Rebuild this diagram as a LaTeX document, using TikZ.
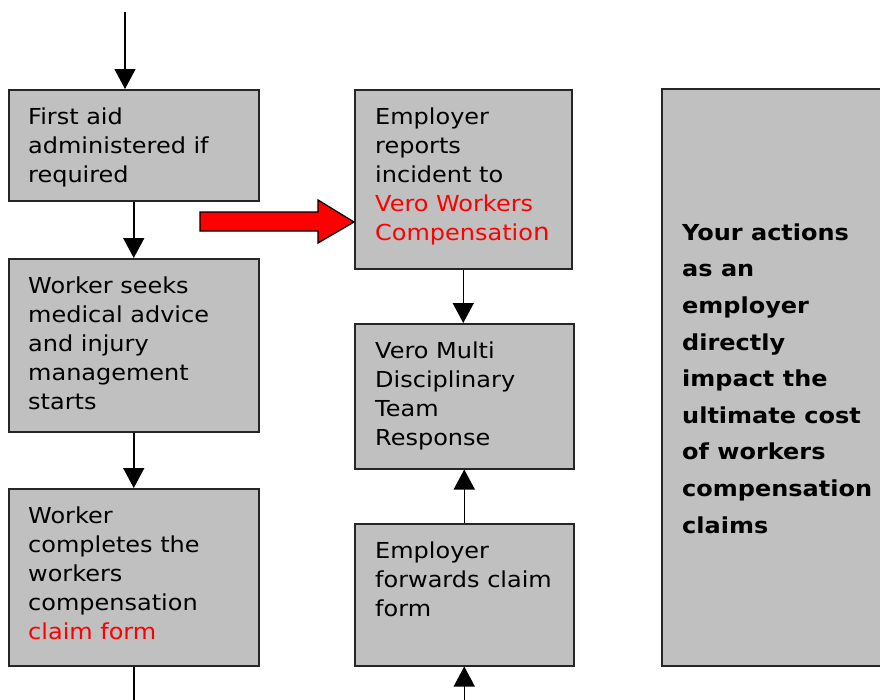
\documentclass[tikz,border=0pt]{standalone}
\usepackage{fontspec}
\setmainfont[FakeStretch=1.09]{DejaVu Sans}
\usetikzlibrary{arrows.meta}
\definecolor{boxgray}{HTML}{C0C0C0}
\definecolor{vred}{HTML}{FF0000}
\newcommand\firststrut{\rule{0pt}{17pt}}
\begin{document}
\begin{tikzpicture}[x=1pt,y=-1pt,
  box/.style={draw=black!85, line width=1.5pt, fill=boxgray, rectangle, inner sep=0pt, anchor=north west},
  txt/.style={anchor=north west, inner sep=0pt, align=left, font=\fontsize{22}{29}\selectfont},
  btxt/.style={anchor=north west, inner sep=0pt, align=left, font=\bfseries\fontsize{22}{36.6}\selectfont},
  conn/.style={line width=1.5pt, -{Triangle[width=21pt,length=20pt]}},
  plain/.style={line width=1.5pt}]
\useasboundingbox (0,0) rectangle (880,699);
\fill[white] (0,0) rectangle (880,699);

% boxes
\node[box, minimum width=250pt, minimum height=111pt] (b1) at (8,89) {};
\node[box, minimum width=250pt, minimum height=173pt] (b2) at (8,258) {};
\node[box, minimum width=250pt, minimum height=177pt] (b3) at (8,488) {};
\node[box, minimum width=217pt, minimum height=179pt] (b4) at (354,89) {};
\node[box, minimum width=219pt, minimum height=145pt] (b5) at (354,323) {};
\node[box, minimum width=219pt, minimum height=142pt] (b6) at (354,523) {};
\node[box, minimum width=228pt, minimum height=577pt] (b7) at (661,88) {};

% texts
\node[txt] (t1) at (28,107) {\firststrut First aid\\administered if\\required};
\node[txt] (t2) at (28,276) {\firststrut Worker seeks\\medical advice\\and injury\\management\\starts};
\node[txt] (t3) at (28,506) {\firststrut Worker\\completes the\\workers\\compensation\\{\color{vred}claim form}};
\node[txt] (t4) at (375,107) {\firststrut Employer\\reports\\incident to\\{\color{vred}Vero Workers}\\{\color{vred}Compensatio{\fontsize{24}{29}\selectfont n}}};
\node[txt] (t5) at (375,341) {\firststrut Vero Multi\\Disciplinary\\Team\\Response};
\node[txt] (t6) at (375,541) {\firststrut Employer\\forwards claim\\form};
\node[btxt] (t7) at (682,223) {\firststrut Your actions\\as an\\employer\\directly\\impact the\\ultimate cost\\of workers\\compensation\\claims};

% connectors
\coordinate (top) at (125,12);
\coordinate (botL) at (133,702);
\coordinate (botR) at (463.5,702);
\draw[conn] (top) -- (top |- b1.north);
\draw[conn] (b1.south) -- (b2.north);
\draw[conn] (b2.south) -- (b3.north);
\draw[plain] (b3.south) -- (b3.south |- botL);
\draw[conn] (b4.south) -- (b4.south |- b5.north);
\draw[conn] (b6.north) -- (b6.north |- b5.south);
\draw[conn] (b6.south |- botR) -- (b6.south);

% red block arrow
\coordinate (rtip) at (354,222);
\draw[fill=vred, line width=1.3pt, line join=miter]
  (200,212) -- (318,212) -- (318,200) -- (rtip) -- (318,243) -- (318,231) -- (200,231) -- cycle;
\end{tikzpicture}
\end{document}
